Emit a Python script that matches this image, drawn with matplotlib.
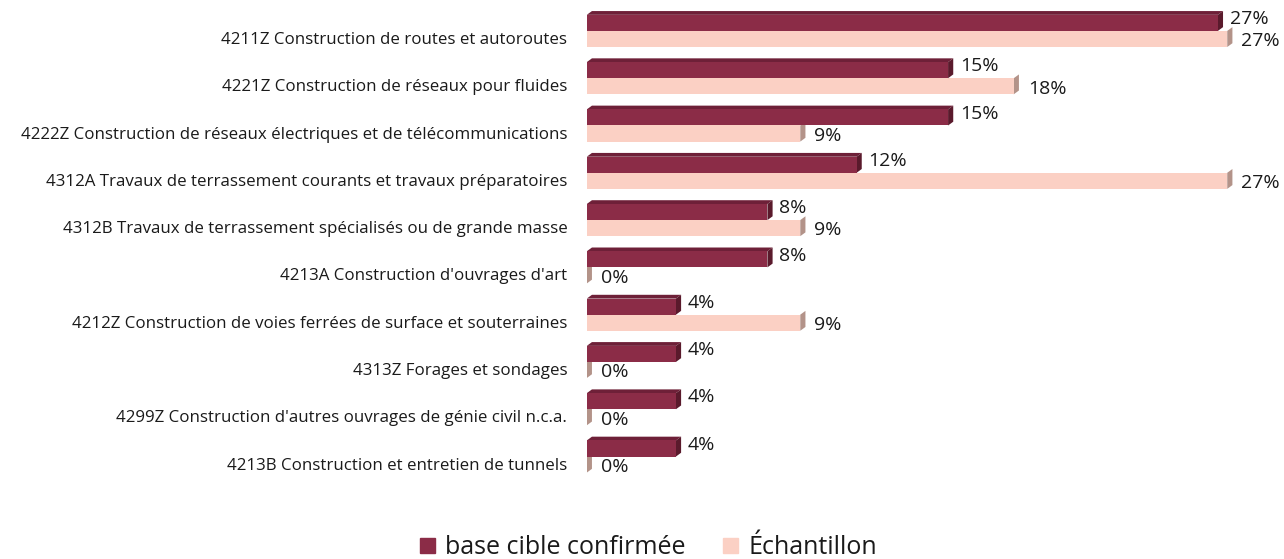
import matplotlib
matplotlib.use("Agg")
import matplotlib.pyplot as plt
from matplotlib.patches import Polygon, Patch

categories = [
    "4211Z Construction de routes et autoroutes",
    "4221Z Construction de réseaux pour fluides",
    "4222Z Construction de réseaux électriques et de télécommunications",
    "4312A Travaux de terrassement courants et travaux préparatoires",
    "4312B Travaux de terrassement spécialisés ou de grande masse",
    "4213A Construction d'ouvrages d'art",
    "4212Z Construction de voies ferrées de surface et souterraines",
    "4313Z Forages et sondages",
    "4299Z Construction d'autres ouvrages de génie civil n.c.a.",
    "4213B Construction et entretien de tunnels",
]
base_cible = [26.9, 15.4, 15.4, 11.5, 7.7, 7.7, 3.8, 3.8, 3.8, 3.8]
echantillon = [27.3, 18.2, 9.1, 27.3, 9.1, 0.0, 9.1, 0.0, 0.0, 0.0]
series_names = ["base cible confirmée", "Échantillon"]

dark = "#8B2C47"
dark_top = "#6E2038"
dark_side = "#5A1A2C"
pink = "#FBD0C4"
pink_side = "#B39389"

plt.rcParams['font.family'] = ['Open Sans', 'DejaVu Sans']

fig = plt.figure(figsize=(12.84, 5.59), dpi=100)
ax = fig.add_axes([0.457, 0.141, 0.539, 0.846])

h = 0.34
dx = 0.22   # depth in x units
dy = 0.08   # depth in row units

ys = list(range(len(categories)))
for i, (b, e) in enumerate(zip(base_cible, echantillon)):
    # pink bar (lower)
    y0 = i
    y1 = i + h
    ax.add_patch(Polygon([[e, y0], [e + dx, y0 - dy], [e + dx, y1 - dy], [e, y1]],
                         closed=True, fc=pink_side, ec="none", zorder=1))
    ax.barh(i + h / 2, e, height=h, color=pink, zorder=2)
    # dark bar (upper)
    t0 = i - h
    t1 = i
    ax.add_patch(Polygon([[0, t0], [dx, t0 - dy], [b + dx, t0 - dy], [b, t0]],
                         closed=True, fc=dark_top, ec="none", zorder=3))
    ax.add_patch(Polygon([[b, t0], [b + dx, t0 - dy], [b + dx, t1 - dy], [b, t1]],
                         closed=True, fc=dark_side, ec="none", zorder=3))
    ax.barh(i - h / 2, b, height=h, color=dark, zorder=4)
    ax.text(b + 0.5, i - h / 2 - 0.08, f"{round(b):d}%", fontsize=14,
            color="#1a1a1a", va="center", ha="left", zorder=5)
    ax.text(e + 0.6, i + h / 2 + 0.05, f"{round(e):d}%", fontsize=14,
            color="#1a1a1a", va="center", ha="left", zorder=5)

ax.set_xlim(0, 29.5)
ax.set_ylim(len(categories) - 0.5, -0.5)
ax.set_yticks([y + 0.15 for y in ys])
ax.set_yticklabels(categories, fontsize=12.2, color="#1a1a1a")
ax.tick_params(axis="y", length=0, pad=14)
ax.set_xticks([])
for s in ax.spines.values():
    s.set_visible(False)

handles = [Patch(color=dark, label=series_names[0]), Patch(color=pink, label=series_names[1])]
fig.legend(handles=handles, loc="center", bbox_to_anchor=(0.505, 0.02), ncol=2,
           frameon=False, fontsize=18, handlelength=0.6, handleheight=0.6,
           columnspacing=1.5, handletextpad=0.4, labelcolor="#1a1a1a")

fig.savefig("out.png", dpi=100)
